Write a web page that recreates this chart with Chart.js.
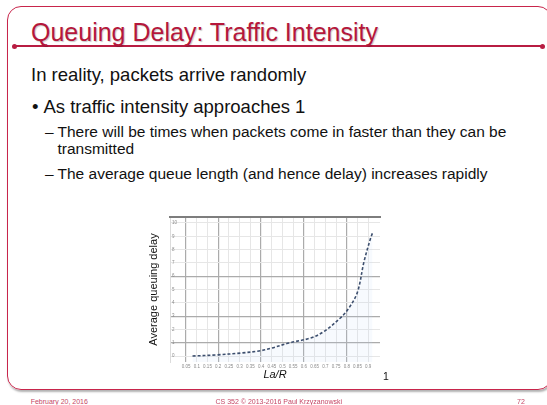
<!DOCTYPE html>
<html>
<head>
<meta charset="utf-8">
<script src="https://cdn.jsdelivr.net/npm/chart.js@4.4.1/dist/chart.umd.min.js"></script>
<style>
  html, body { margin:0; padding:0; background:#fff; }
  body { width:547px; height:405px; position:relative; overflow:hidden; font-family:"Liberation Sans", Arial, sans-serif; }
  .abs { position:absolute; white-space:nowrap; line-height:1; }
  #frame { position:absolute; left:7px; top:6px; width:545px; height:384px; border:1.5px solid #c8254b; border-radius:14px; box-shadow:1px 2px 2px rgba(0,0,0,0.3); box-sizing:border-box; }
  #rule { position:absolute; left:14px; top:45px; width:528px; height:2px; background:#b81c42; }
  .dot { position:absolute; width:5px; height:5px; border-radius:50%; background:#b81c42; top:43.5px; }
  #title { color:#b5173b; font-size:25px; left:31px; top:19.8px; text-shadow:1px 1px 1px rgba(0,0,0,0.22); }
  .l1 { font-size:18.5px; color:#111; }
  .l2 { font-size:15.5px; color:#111; }
  .foot { font-size:7px; color:#c54766; top:398px; }
  #wrap { position:absolute; left:140px; top:210px; width:250px; height:178px; }
</style>
</head>
<body>
<div id="frame"></div>
<div id="rule"></div>
<div class="dot" style="left:12px"></div>
<div class="dot" style="left:539.5px"></div>
<div id="title" class="abs">Queuing Delay: Traffic Intensity</div>

<div class="abs l1" style="left:31px;top:66px">In reality, packets arrive randomly</div>
<div class="abs l1" style="left:32px;top:97.5px">•</div>
<div class="abs l1" style="left:43.5px;top:97.5px">As traffic intensity approaches 1</div>
<div class="abs l2" style="left:45px;top:124px">–</div>
<div class="abs l2" style="left:57.5px;top:124px">There will be times when packets come in faster than they can be</div>
<div class="abs l2" style="left:57.5px;top:140.5px">transmitted</div>
<div class="abs l2" style="left:45px;top:165.5px">–</div>
<div class="abs l2" style="left:57.5px;top:165.5px">The average queue length (and hence delay) increases rapidly</div>

<div id="wrap"><canvas id="c" width="250" height="178"></canvas></div>
<div class="abs" style="left:383px;top:371px;font-size:10.5px;color:#111">1</div>

<div class="abs foot" style="left:30.7px">February 20, 2016</div>
<div class="abs foot" style="left:215.5px">CS 352 © 2013-2016 Paul Krzyzanowski</div>
<div class="abs foot" style="left:517px">72</div>

<script>
// ---- data ----
const trafficIntensity = [0.08, 0.19, 0.31, 0.39, 0.45, 0.53, 0.63, 0.69, 0.77, 0.81, 0.85, 0.88, 0.91, 0.92];
const averageDelay     = [0.00, 0.08, 0.23, 0.38, 0.60, 0.98, 1.35, 1.81, 2.86, 3.61, 4.81, 7.07, 8.80, 9.25];
const xTickValues  = [0.05,0.1,0.15,0.2,0.25,0.3,0.35,0.4,0.45,0.5,0.55,0.6,0.65,0.7,0.75,0.8,0.85,0.9];
const xTickLabels  = ['0.05','0.1','0.15','0.2','0.25','0.3','0.35','0.4','0.45','0.5','0.55','0.6','0.65','0.7','0.75','0.8','0.85','0.9'];
const xMajorLines  = [0.05, 0.2, 0.4, 0.6, 0.8];
const yTickValues  = [0,1,2,3,4,5,6,7,8,9,10];
const yTickLabels  = ['0','1','2','3','4','5','6','7','8','9','10'];
const yMajorLines  = [1, 3, 6];
const xTitle = 'La/R';
const yTitle = 'Average queuing delay';

const points = trafficIntensity.map((x, i) => ({x, y: averageDelay[i]}));

const topFrame = {
  id: 'topFrame',
  afterDraw(chart) {
    const {ctx, chartArea:a} = chart;
    ctx.save();
    ctx.fillStyle = '#7d7d7d';
    ctx.fillRect(a.left - 1, a.top - 1, a.right - a.left + 2, 2);
    ctx.restore();
  }
};

const isIn = (arr, v) => arr.some(m => Math.abs(m - v) < 1e-6);

new Chart(document.getElementById('c'), {
  type: 'line',
  data: {
    datasets: [{
      data: points,
      borderColor: '#3d4f6e',
      borderWidth: 1.6,
      borderDash: [3, 2],
      pointRadius: 0,
      tension: 0.35,
      fill: 'start',
      backgroundColor: 'rgba(190,220,245,0.13)'
    }]
  },
  options: {
    responsive: false,
    animation: false,
    events: [],
    layout: { padding: { left: 7, top: 7, right: 10, bottom: 0 } },
    plugins: { legend: { display: false }, tooltip: { enabled: false } },
    scales: {
      x: {
        type: 'linear',
        min: -0.025, max: 0.955,
        afterBuildTicks: s => { s.ticks = xTickValues.map(v => ({value: v})); },
        afterFit: s => { s.height = 26; },
        grid: {
          drawTicks: false,
          color: c => (c.tick && isIn(xMajorLines, c.tick.value)) ? '#ababab' : '#e6e6e6',
          lineWidth: c => (c.tick && isIn(xMajorLines, c.tick.value)) ? 1.2 : 1
        },
        border: { display: false },
        ticks: {
          autoSkip: false, maxRotation: 0, padding: 2,
          font: { family: 'Liberation Sans', size: 4.5 }, color: '#8a8a8a',
          callback: (v) => { const i = xTickValues.findIndex(t => Math.abs(t - v) < 1e-6); return i >= 0 ? xTickLabels[i] : ''; }
        },
        title: { display: true, text: xTitle, color: '#111', padding: { top: 0, bottom: 6 },
                 font: { family: 'Liberation Sans', size: 11, style: 'italic' } }
      },
      y: {
        min: -0.45, max: 10.45,
        afterBuildTicks: s => { s.ticks = yTickValues.map(v => ({value: v})); },
        afterFit: s => { s.width = 23; },
        grid: {
          drawTicks: false,
          color: c => (c.tick && isIn(yMajorLines, c.tick.value)) ? '#ababab' : '#e6e6e6',
          lineWidth: c => (c.tick && isIn(yMajorLines, c.tick.value)) ? 1.2 : 1
        },
        border: { display: true, color: '#dcdcdc' },
        ticks: {
          mirror: true, padding: 2, autoSkip: false,
          font: { family: 'Liberation Sans', size: 4.5 }, color: '#8a8a8a',
          callback: (v) => { const i = yTickValues.indexOf(v); return i >= 0 ? yTickLabels[i] : ''; }
        },
        title: { display: true, text: yTitle, color: '#111', padding: { top: 0, bottom: 0 },
                 font: { family: 'Liberation Sans', size: 11 } }
      }
    }
  },
  plugins: [topFrame]
});
</script>
</body>
</html>
